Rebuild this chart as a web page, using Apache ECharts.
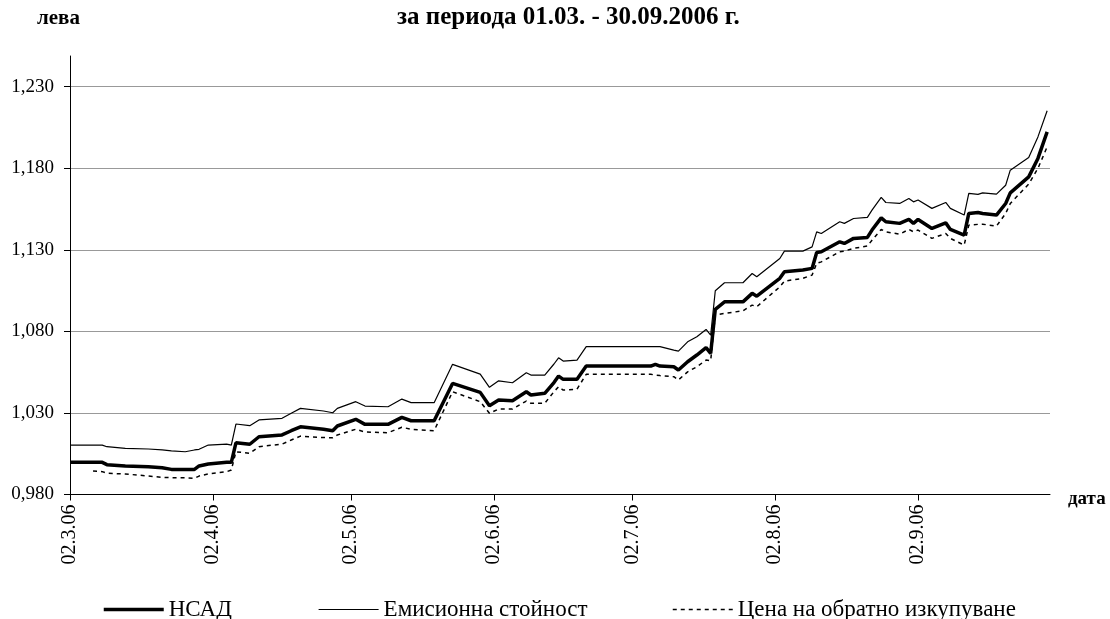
<!DOCTYPE html>
<html>
<head>
<meta charset="utf-8">
<script src="https://cdn.jsdelivr.net/npm/echarts@6/dist/echarts.min.js"></script>
<style>html,body{margin:0;padding:0;background:#fff}#c{width:1110px;height:619px}</style>
</head>
<body>
<div id="c"></div>
<script>
const dates = ['2006-03-02','2006-03-07','2006-03-09','2006-03-10','2006-03-14','2006-03-19','2006-03-22','2006-03-24','2006-03-27','2006-03-29',
'2006-03-30','2006-04-01','2006-04-05','2006-04-06','2006-04-07','2006-04-10','2006-04-12','2006-04-17','2006-04-19','2006-04-21',
'2006-04-26','2006-04-28','2006-04-29','2006-05-03','2006-05-05','2006-05-10','2006-05-13','2006-05-15','2006-05-20','2006-05-24',
'2006-05-30','2006-06-01','2006-06-03','2006-06-06','2006-06-09','2006-06-10','2006-06-13','2006-06-15','2006-06-16','2006-06-17',
'2006-06-20','2006-06-22','2006-07-06','2006-07-07','2006-07-08','2006-07-11','2006-07-12','2006-07-14','2006-07-16','2006-07-18',
'2006-07-19','2006-07-20','2006-07-22','2006-07-26','2006-07-28','2006-07-29','2006-08-03','2006-08-04','2006-08-08','2006-08-10',
'2006-08-11','2006-08-12','2006-08-16','2006-08-17','2006-08-19','2006-08-22','2006-08-23','2006-08-25','2006-08-26','2006-08-29',
'2006-08-31','2006-09-01','2006-09-02','2006-09-05','2006-09-08','2006-09-09','2006-09-12','2006-09-13','2006-09-15','2006-09-16',
'2006-09-19','2006-09-21','2006-09-22','2006-09-26','2006-09-28','2006-09-30'];

const nav = [0.9997,0.9997,0.9997,0.9983,0.9975,0.9970,0.9964,0.9954,0.9954,0.9954,
0.9975,0.9987,0.9997,0.9997,1.0117,1.0108,1.0154,1.0165,1.0191,1.0215,
1.0200,1.0191,1.0220,1.0261,1.0230,1.0230,1.0273,1.0252,1.0252,1.0481,
1.0426,1.0344,1.0379,1.0375,1.0430,1.0410,1.0420,1.0486,1.0526,1.0506,
1.0506,1.0587,1.0587,1.0598,1.0587,1.0583,1.0563,1.0614,1.0655,1.0700,
1.0665,1.0935,1.0981,1.0981,1.1033,1.1016,1.1125,1.1165,1.1176,1.1186,
1.1284,1.1288,1.1349,1.1339,1.1370,1.1376,1.1421,1.1496,1.1472,1.1462,
1.1486,1.1462,1.1486,1.1431,1.1465,1.1425,1.1390,1.1523,1.1529,1.1523,
1.1513,1.1584,1.1649,1.1747,1.1860,1.2023];

const emission = [1.0103,1.0103,1.0103,1.0093,1.0083,1.0079,1.0073,1.0068,1.0062,1.0073,
1.0077,1.0103,1.0109,1.0103,1.0232,1.0222,1.0257,1.0267,1.0298,1.0328,
1.0312,1.0301,1.0328,1.0369,1.0342,1.0338,1.0385,1.0363,1.0363,1.0598,
1.0538,1.0457,1.0497,1.0485,1.0546,1.0532,1.0532,1.0600,1.0638,1.0618,
1.0624,1.0706,1.0706,1.0706,1.0706,1.0685,1.0679,1.0736,1.0767,1.0812,
1.0777,1.1049,1.1098,1.1098,1.1155,1.1135,1.1247,1.1292,1.1292,1.1318,
1.1410,1.1400,1.1472,1.1462,1.1492,1.1499,1.1543,1.1621,1.1590,1.1584,
1.1615,1.1594,1.1605,1.1554,1.1590,1.1554,1.1513,1.1646,1.1640,1.1649,
1.1641,1.1696,1.1788,1.1866,1.1992,1.2152];

const redemption = [null,0.9944,0.9940,0.9930,0.9926,0.9913,0.9905,0.9903,0.9903,0.9899,
0.9913,0.9926,0.9940,0.9950,1.0062,1.0052,1.0093,1.0109,1.0134,1.0158,
1.0149,1.0148,1.0165,1.0200,1.0183,1.0179,1.0212,1.0200,1.0191,1.0430,
1.0369,1.0298,1.0324,1.0324,1.0373,1.0359,1.0359,1.0430,1.0461,1.0440,
1.0446,1.0537,1.0537,1.0532,1.0529,1.0522,1.0502,1.0552,1.0583,1.0624,
1.0620,1.0900,1.0910,1.0926,1.0961,1.0951,1.1073,1.1108,1.1125,1.1145,
1.1217,1.1226,1.1288,1.1292,1.1309,1.1323,1.1359,1.1425,1.1410,1.1396,
1.1425,1.1410,1.1421,1.1370,1.1400,1.1370,1.1329,1.1451,1.1456,1.1457,
1.1445,1.1523,1.1584,1.1703,1.1799,1.1931];

const xTickDates = ['2006-03-02','2006-04-02','2006-05-02','2006-06-02','2006-07-02','2006-08-02','2006-09-02'];
const seriesNames = ['НСАД','Емисионна стойност','Цена на обратно изкупуване'];

const ts = d => Date.parse(d + 'T00:00:00Z');
const DAY = 86400000;
const xMin = ts('2006-03-02');
const xMax = xMin + 212.62 * DAY;
const FONT = 'Liberation Serif, Times New Roman, serif';

const pair = arr => dates.map((d, i) => [ts(d), arr[i]]);

const styles = [
  {color: '#000', width: 3.5, type: 'solid'},
  {color: '#000', width: 1.2, type: 'solid'},
  {color: '#000', width: 1.5, type: [4, 4]}
];

const legendFor = (i, left) => ({
  data: [seriesNames[i]], left: left, top: 593, itemWidth: 60, itemHeight: 24,
  itemStyle: {color: 'transparent', borderColor: 'transparent', borderWidth: 0},
  lineStyle: Object.assign({}, styles[i]),
  textStyle: {fontFamily: FONT, fontSize: 23, color: '#000'}
});

const chart = echarts.init(document.getElementById('c'), null, {renderer: 'canvas'});
chart.setOption({
  animation: false,
  backgroundColor: '#fff',
  title: [
    {text: 'за периода 01.03. - 30.09.2006 г.', left: 392, top: 0,
     textStyle: {fontFamily: FONT, fontWeight: 'bold', fontSize: 25, color: '#000'}},
    {text: 'лева', left: 32, top: 3,
     textStyle: {fontFamily: FONT, fontWeight: 'bold', fontSize: 21, color: '#000'}},
    {text: 'дата', left: 1063, top: 485,
     textStyle: {fontFamily: FONT, fontWeight: 'bold', fontSize: 19, color: '#000'}}
  ],
  grid: {left: 70, top: 56, width: 980, height: 438.5, containLabel: false},
  xAxis: {
    type: 'value',
    min: xMin, max: xMax,
    axisLine: {show: true, lineStyle: {color: '#000', width: 1}},
    axisTick: {show: true, length: 6, lineStyle: {color: '#000'}, customValues: xTickDates.map(ts)},
    axisLabel: {
      customValues: xTickDates.map(ts),
      rotate: 90, margin: 10,
      fontFamily: FONT, fontSize: 20, color: '#000',
      formatter: v => {
        const d = new Date(v);
        return String(d.getUTCDate()).padStart(2, '0') + '.' + (d.getUTCMonth() + 1) + '.' + String(d.getUTCFullYear()).slice(2);
      }
    },
    splitLine: {show: false}
  },
  yAxis: {
    type: 'value',
    min: 0.98, max: 1.2488, interval: 0.05,
    axisLine: {show: true, lineStyle: {color: '#000', width: 1}},
    axisTick: {show: true, length: 6, lineStyle: {color: '#000'}},
    axisLabel: {
      margin: 16, fontFamily: FONT, fontSize: 19, color: '#000', showMaxLabel: false,
      formatter: v => v.toFixed(3).replace('.', ',')
    },
    splitLine: {show: true, showMinLine: false, showMaxLine: false, lineStyle: {color: '#999', width: 1}}
  },
  legend: [legendFor(0, 97), legendFor(1, 313), legendFor(2, 667)],
  series: [
    {name: seriesNames[1], type: 'line', data: pair(emission), symbol: 'none', showSymbol: false, z: 2,
     lineStyle: styles[1], itemStyle: {color: '#000'}},
    {name: seriesNames[2], type: 'line', data: pair(redemption), symbol: 'none', showSymbol: false, z: 2,
     lineStyle: styles[2], itemStyle: {color: '#000'}},
    {name: seriesNames[0], type: 'line', data: pair(nav), symbol: 'none', showSymbol: false, z: 3,
     lineStyle: styles[0], itemStyle: {color: '#000'}}
  ]
});
</script>
</body>
</html>
